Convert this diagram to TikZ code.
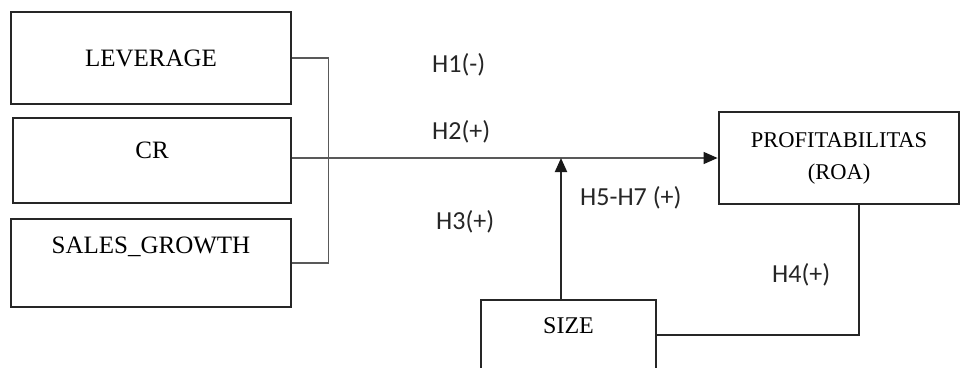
\documentclass[tikz,border=0pt]{standalone}
\usepackage{fontspec}
\setmainfont{Liberation Serif}
\newfontfamily\hypfont{Carlito}
\usetikzlibrary{arrows.meta}

\tikzset{
    var/.style={draw=black!85, line width=2.8pt, rectangle, inner sep=0pt,
        font=\fontsize{25}{30}\selectfont},
    hyp/.style={inner sep=0pt, anchor=west, text=black!85,
        font=\hypfont\fontsize{26}{30}\selectfont},
    link/.style={draw=black!65, line width=1.3pt},
    rise/.style={draw=black!85, line width=2pt},
}

\begin{document}
\begin{tikzpicture}[x=1pt, y=-1pt, >={Triangle[length=14pt, width=12pt, color=black!90]}]
            \useasboundingbox (0, 0) rectangle (961, 367);
            \node[var, minimum width=280pt, minimum height=92pt] (lev) at (151, 58) {LEVERAGE};
            \node[var, minimum width=278pt, minimum height=85pt, text height=18pt, text depth=22pt] (cr) at (152, 160.5) {CR};
            \node[var, minimum width=280pt, minimum height=88pt, text height=18pt, text depth=37pt] (sales) at (151, 263) {SALES\_GROWTH};
            \node[var, minimum width=240pt, minimum height=92pt, align=center, font=\fontsize{22.5}{32}\selectfont] (prof) at (839, 158) {PROFITABILITAS\\(ROA)};
            \node[var, minimum width=175pt, minimum height=70pt, text height=18pt, text depth=22pt, font=\fontsize{24}{30}\selectfont] (size) at (568.5, 335) {SIZE};
            \node[hyp] (h1) at (432, 65) {H1(-)};
            \node[hyp] (h2) at (432, 132) {H2(+)};
            \node[hyp] (h3) at (436, 222) {H3(+)};
            \node[hyp] (h57) at (580, 198) {H5-H7 (+)};
            \node[hyp] (h4) at (772, 275) {H4(+)};
            \draw[link] (lev.east) -- ++(36, 0) |- (sales.east);
            \draw[link, ->] (cr.east |- prof.west) -- (prof.west);
            \coordinate (foot) at ([xshift=-7.5pt]size.north);
            \draw[rise, ->] (foot) -- (foot |- prof.west);
            \draw[rise, line width=1.6pt] (size.east) -| ([xshift=20pt]prof.south);
        \end{tikzpicture}
\end{document}
